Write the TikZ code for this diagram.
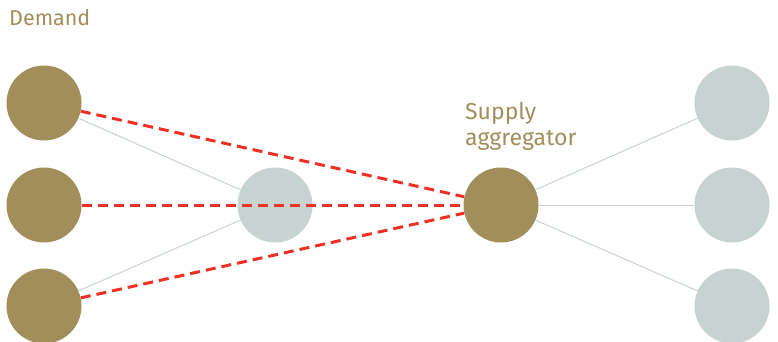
\documentclass[tikz,border=0pt]{standalone}
\usepackage{fontspec}
\setmainfont{Fira Sans}
\definecolor{gold}{HTML}{A28E5B}
\definecolor{mist}{HTML}{C7D3D0}
\definecolor{alert}{HTML}{EE3124}
\begin{document}
\begin{tikzpicture}[x=1pt,y=-1pt,
  dot/.style={circle,minimum size=75pt,inner sep=0pt},
  demand/.style={dot,fill=gold},
  supply/.style={dot,fill=mist},
  link/.style={draw=mist,line width=1pt},
  bypass/.style={draw=alert,line width=3pt,dash pattern=on 10pt off 6pt},
  caption/.style={text=gold,align=left,inner sep=0pt}]
\useasboundingbox (0,0) rectangle (778,342);
% demand side
\node[demand] (d1) at (44,103) {};
\node[demand] (d2) at (44,205) {};
\node[demand] (d3) at (44,306) {};
% intermediary
\node[supply] (m) at (275,205) {};
% aggregator
\node[demand] (agg) at (501,205) {};
% supply side
\node[supply] (s1) at (732,103) {};
\node[supply] (s2) at (732,205) {};
\node[supply] (s3) at (732,306) {};
% labels (base anchor of a two-line node is the last line's baseline)
\node[caption,anchor=base west,font=\fontsize{21.5}{26}\selectfont] (lbl) at (9,26) {Demand};
\node[caption,anchor=base west,font=\fontsize{23}{25.5}\selectfont] (albl) at (465,145) {Supply\\aggregator};
% thin links
\draw[link] (d1) -- (m);
\draw[link] (d3) -- (m);
\draw[link] (agg) -- (s1);
\draw[link] (agg) -- (s2);
\draw[link] (agg) -- (s3);
% direct routes to the aggregator
\draw[bypass] (d1) -- (agg);
\draw[bypass] (d2) -- (agg);
\draw[bypass] (d3) -- (agg);
\end{tikzpicture}
\end{document}
